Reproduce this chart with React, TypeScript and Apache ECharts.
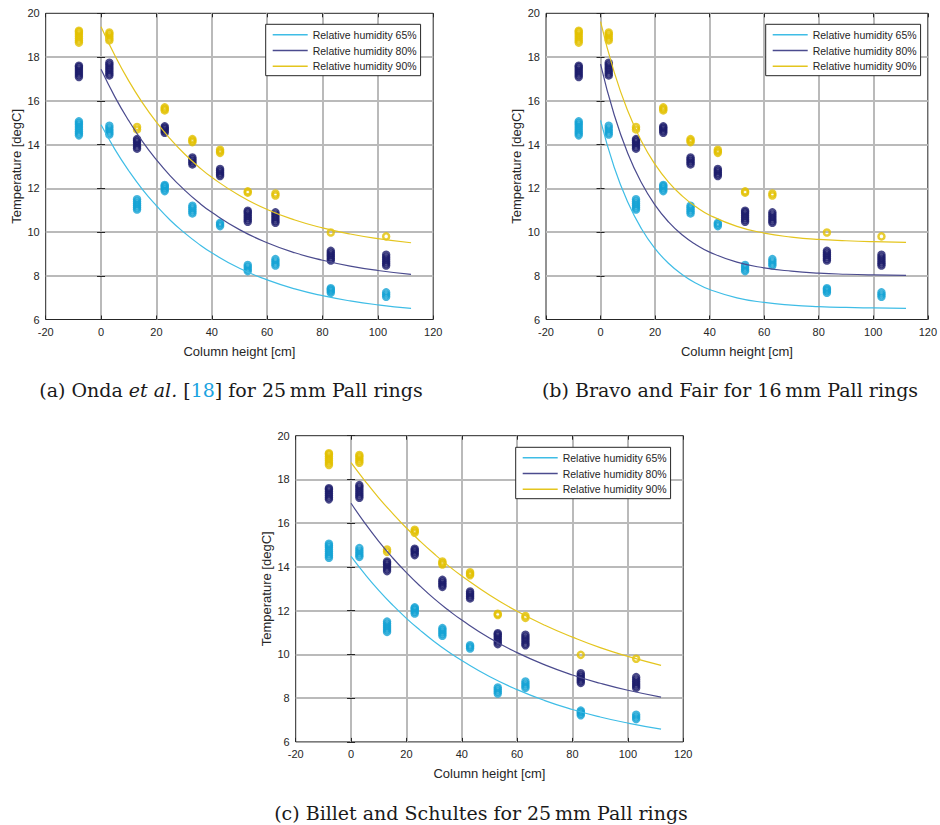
import React, { useEffect, useRef } from "react";
import * as echarts from "echarts";

// Measured packing heights (cm) where the thermocouples sit
const heights = [-8, 3, 13, 23, 33, 43, 53, 63, 83, 103];

// Repeated temperature readings (degC) at each height, one list per height
const rh65 = [
  [14.42, 14.51, 14.6, 14.7, 14.8, 14.9, 14.98, 15.06],
  [14.46, 14.55, 14.65, 14.75, 14.86],
  [11.03, 11.12, 11.21, 11.3, 11.4, 11.5],
  [11.87, 11.95, 12.03, 12.1, 12.15],
  [10.85, 10.94, 11.03, 11.12, 11.2],
  [10.27, 10.35, 10.42],
  [8.21, 8.3, 8.4, 8.49],
  [8.47, 8.56, 8.66, 8.76],
  [7.22, 7.3, 7.37, 7.43],
  [7.04, 7.14, 7.24],
];
const rh80 = [
  [17.09, 17.18, 17.27, 17.36, 17.45, 17.54, 17.6],
  [17.16, 17.25, 17.35, 17.45, 17.55, 17.65, 17.74],
  [13.81, 13.9, 14.0, 14.1, 14.18, 14.25],
  [14.54, 14.62, 14.7, 14.77, 14.83],
  [13.09, 13.17, 13.25, 13.33, 13.41],
  [12.56, 12.64, 12.72, 12.8, 12.88],
  [10.47, 10.56, 10.65, 10.74, 10.83, 10.91, 10.97],
  [10.42, 10.5, 10.6, 10.7, 10.8, 10.9],
  [8.7, 8.78, 8.87, 8.96, 9.05, 9.14],
  [8.47, 8.56, 8.65, 8.75, 8.85, 8.96],
];
const rh90 = [
  [18.66, 18.75, 18.85, 18.95, 19.05, 19.15, 19.2],
  [18.76, 18.85, 18.95, 19.05, 19.12],
  [14.69, 14.8],
  [15.56, 15.63, 15.7],
  [14.11, 14.18, 14.25],
  [13.62, 13.69, 13.76],
  [11.8, 11.86],
  [11.67, 11.76],
  [9.98],
  [9.8],
];

// Model curves sampled along the column height (cm)
const fitHeights = [0, 5, 10, 15, 20, 25, 30, 35, 40, 50, 60, 70, 80, 90, 100, 112];

const ondaFit65 = [14.9, 13.78, 12.8, 11.94, 11.2, 10.54, 9.98, 9.48, 9.05, 8.34, 7.81, 7.4, 7.09, 6.85, 6.67, 6.51];
const ondaFit80 = [17.44, 16.18, 15.09, 14.13, 13.3, 12.57, 11.94, 11.38, 10.9, 10.11, 9.51, 9.05, 8.71, 8.44, 8.24, 8.06];
const ondaFit90 = [19.39, 18.07, 16.91, 15.9, 15.02, 14.26, 13.59, 13.01, 12.5, 11.67, 11.03, 10.55, 10.19, 9.91, 9.7, 9.51];

const bravoFit65 = [15.1, 12.96, 11.36, 10.15, 9.24, 8.56, 8.05, 7.66, 7.37, 6.99, 6.78, 6.66, 6.59, 6.55, 6.53, 6.51];
const bravoFit80 = [17.68, 15.36, 13.59, 12.25, 11.23, 10.45, 9.86, 9.42, 9.08, 8.62, 8.36, 8.21, 8.12, 8.07, 8.04, 8.02];
const bravoFit90 = [19.62, 17.31, 15.53, 14.15, 13.09, 12.27, 11.64, 11.15, 10.77, 10.26, 9.95, 9.77, 9.66, 9.6, 9.56, 9.53];

const billetFit65 = [14.48, 13.67, 12.93, 12.26, 11.65, 11.1, 10.59, 10.13, 9.72, 8.99, 8.39, 7.89, 7.48, 7.14, 6.86, 6.58];
const billetFit80 = [16.91, 16.0, 15.17, 14.42, 13.74, 13.12, 12.55, 12.04, 11.57, 10.75, 10.08, 9.52, 9.06, 8.68, 8.36, 8.05];
const billetFit90 = [18.77, 17.94, 17.16, 16.45, 15.78, 15.17, 14.6, 14.07, 13.59, 12.72, 11.97, 11.33, 10.79, 10.31, 9.91, 9.5];

const seriesNames = ["Relative humidity 65%", "Relative humidity 80%", "Relative humidity 90%"];
const measured = [rh65, rh80, rh90];

const markerColors = ["#14a3d4", "#1d1d6c", "#e2c000"];
const lineColors = ["#3fbde6", "#4b4b8e", "#e4c51e"];

const SANS = "Liberation Sans, Arial, sans-serif";
const SERIF = "DejaVu Serif, serif";
const INK = "#262626";

const PLOT_W = 387.5;
const PLOT_H = 306.2;

const panels = [
  {
    left: 45.7, top: 13.3, legendLeft: 265.7, legendTop: 24.3,
    fits: [ondaFit65, ondaFit80, ondaFit90],
    caption: { x: 231, y: 390, text: "(a) Onda {i|et al.} [{c|18}] for 25\u2009mm Pall rings" },
  },
  {
    left: 546, top: 13.3, legendLeft: 765.7, legendTop: 24.3,
    fits: [bravoFit65, bravoFit80, bravoFit90],
    caption: { x: 730, y: 390, text: "(b) Bravo and Fair for 16\u2009mm Pall rings" },
  },
  {
    left: 295.7, top: 435.7, legendLeft: 515.7, legendTop: 447.3,
    fits: [billetFit65, billetFit80, billetFit90],
    caption: { x: 481, y: 813, text: "(c) Billet and Schultes for 25\u2009mm Pall rings" },
  },
];

const toPoints = (cols: number[][]) =>
  cols.flatMap((vals, i) => vals.map((v) => [heights[i], v]));
const toCurve = (vals: number[]) => vals.map((v, i) => [fitHeights[i], v]);

const CAPTION_SIZE = 19;

function buildOption() {
  const grid: any[] = [];
  const xAxis: any[] = [];
  const yAxis: any[] = [];
  const legend: any[] = [];
  const series: any[] = [];
  const graphic: any[] = [];

  const tick = { show: true, inside: true, length: 4, lineStyle: { color: INK, width: 1 } };
  const grey = { show: true, showMinLine: false, showMaxLine: false, lineStyle: { color: "#bababa", width: 2 } };

  panels.forEach((p, i) => {
    grid.push({
      left: p.left, top: p.top, width: PLOT_W, height: PLOT_H,
      show: true, borderColor: INK, borderWidth: 1, backgroundColor: "#fff",
    });

    xAxis.push({
      type: "value", gridIndex: i, min: -20, max: 120, interval: 20,
      axisLine: { show: false }, axisTick: tick,
      axisLabel: { fontFamily: SANS, fontSize: 11, color: INK, margin: 7 },
      splitLine: grey,
      name: "Column height [cm]", nameLocation: "middle", nameGap: 25,
      nameTextStyle: { fontFamily: SANS, fontSize: 13, color: INK },
    });
    yAxis.push({
      type: "value", gridIndex: i, min: 6, max: 20, interval: 2,
      axisLine: { show: false }, axisTick: tick,
      axisLabel: { fontFamily: SANS, fontSize: 11, color: INK, margin: 6 },
      splitLine: grey,
      name: "Temperature [degC]", nameLocation: "middle", nameGap: 23,
      nameTextStyle: { fontFamily: SANS, fontSize: 13, color: INK },
    });
  });

  // mirrored tick marks on the top and right edges of each box
  panels.forEach((_, i) => {
    xAxis.push({
      type: "value", gridIndex: i, position: "top", min: -20, max: 120, interval: 20,
      axisLine: { show: false }, axisTick: tick, axisLabel: { show: false }, splitLine: { show: false },
    });
    yAxis.push({
      type: "value", gridIndex: i, position: "right", min: 6, max: 20, interval: 2,
      axisLine: { show: false }, axisTick: tick, axisLabel: { show: false }, splitLine: { show: false },
    });
  });

  panels.forEach((p, i) => {
    measured.forEach((cols, h) => {
      series.push({
        type: "scatter",
        name: seriesNames[h] + " (measured)",
        xAxisIndex: i, yAxisIndex: i,
        data: toPoints(cols),
        symbol: "circle", symbolSize: 6,
        itemStyle: { color: "rgba(0,0,0,0)", borderColor: markerColors[h], borderWidth: 2.5 },
        z: 2,
      });
    });
    p.fits.forEach((vals, h) => {
      series.push({
        type: "line",
        name: seriesNames[h],
        xAxisIndex: i, yAxisIndex: i,
        data: toCurve(vals),
        smooth: true, symbol: "none",
        lineStyle: { color: lineColors[h], width: 1.2 },
        itemStyle: { color: lineColors[h] },
        z: 3,
      });
    });

    legend.push({
      data: seriesNames.map((name) => ({ name, icon: "rect" })),
      left: p.legendLeft, top: p.legendTop,
      orient: "vertical", itemWidth: 35, itemHeight: 1.6, itemGap: 4.7,
      padding: [5, 4, 4, 7], borderColor: INK, borderWidth: 1, borderRadius: 0,
      backgroundColor: "#fff", selectedMode: false,
      textStyle: { fontFamily: SANS, fontSize: 10.5, color: INK, lineHeight: 10 },
    });

    graphic.push({
      type: "text", x: p.caption.x, y: p.caption.y,
      style: {
        text: p.caption.text,
        fontFamily: SERIF, fontSize: CAPTION_SIZE, fill: "#1a1a1a",
        align: "center", verticalAlign: "middle",
        textAlign: "center", textVerticalAlign: "middle",
        rich: {
          i: { fontFamily: SERIF, fontSize: CAPTION_SIZE, fontStyle: "italic", fill: "#1a1a1a" },
          c: { fontFamily: SERIF, fontSize: CAPTION_SIZE, fill: "#1ba3e0" },
        },
      },
    });
  });

  return { animation: false, backgroundColor: "#fff", grid, xAxis, yAxis, legend, series, graphic };
}

export default function App() {
  const ref = useRef<HTMLDivElement>(null);
  useEffect(() => {
    if (!ref.current) return;
    const chart = echarts.init(ref.current, undefined, { renderer: "svg" });
    chart.setOption(buildOption() as any);
    return () => chart.dispose();
  }, []);
  return (
    <div
      ref={ref}
      style={{ position: "fixed", left: 0, top: 0, width: 940, height: 825, background: "#fff" }}
    />
  );
}
